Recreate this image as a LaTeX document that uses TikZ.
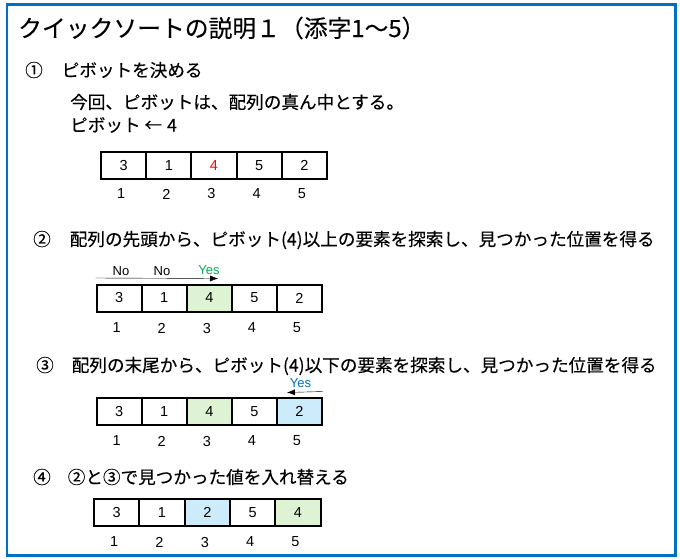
\documentclass[tikz,border=0pt]{standalone}
\usepackage{fontspec}
\setmainfont{Liberation Sans}
\newfontfamily\jpfont[FakeBold=0.3]{Noto Sans CJK JP}
\usetikzlibrary{calc,positioning,arrows.meta}
\definecolor{frameblue}{HTML}{0070C0}
\definecolor{yesgreen}{HTML}{00B050}
\definecolor{cellgreen}{HTML}{DEF2D4}
\definecolor{cellblue}{HTML}{CCECFC}
\tikzset{
	cell/.style={draw, line width=2pt, minimum width=45.2pt, minimum height=27pt, inner sep=0pt, font=\fontsize{14.5}{14.5}\selectfont},
	cellw/.style={fill=white},
	cellg/.style={fill=cellgreen},
	cellb/.style={fill=cellblue},
	cellr/.style={text=red},
	idx/.style={inner sep=0pt, font=\fontsize{14.5}{14.5}\selectfont},
	lab/.style={inner sep=0pt, font=\fontsize{13}{13}\selectfont},
	jp/.style={anchor=west, inner sep=0pt, font=\jpfont\fontsize{17.6}{17.6}\selectfont},
}
\begin{document}
\begin{tikzpicture}[x=1pt,y=-1pt]
	\useasboundingbox (0,0) rectangle (680,558);
	\draw[frameblue, line width=2.5pt] (7,4.3) rectangle (675.5,555.5);
	\node[jp, font=\jpfont\fontsize{23.8}{23.8}\selectfont] (title) at (18,28) {クイックソートの説明１（添字1～5）};
	% 1
	\node[jp] (h1) at (25,70) {①\hspace{19pt}ピボットを決める};
	\node[jp] (t1) at (70,102) {今回、ピボットは、配列の真ん中とする。};
	\node[jp] (t2) at (70,125) {ピボット ←\hspace{5pt}4};
	\coordinate (A1) at (78.4,165.5);
	\foreach \v/\s [count=\i] in {3/cellw,1/cellw,4/cellr,5/cellw,2/cellw}{
		\node[cell,\s] (a1c\i) at ($(A1)+(\i*45.2,0)$) {\v};
		\node[idx] (a1i\i) at ($(a1c\i)+(-2.5,28.5)$) {\i};
	}
	% 2
	\node[jp] (h2) at (33,240) {②\hspace{19pt}配列の先頭から、ピボット(4)以上の要素を探索し、見つかった位置を得る};
	\coordinate (A2) at (74,298);
	\foreach \v/\s [count=\i] in {3/cellw,1/cellw,4/cellg,5/cellw,2/cellw}{
		\node[cell,\s] (a2c\i) at ($(A2)+(\i*45.1,0)$) {\v};
		\node[idx] (a2i\i) at ($(a2c\i)+(-2.5,30)$) {\i};
	}
	\node[lab] (no1) at (121,271) {No};
	\node[lab] (no2) at (162,271) {No};
	\node[lab, yesgreen] (yes2) at (209,270) {Yes};
	\coordinate (s2) at ($(a2c1.north west)+(0,-5.5)$);
	\coordinate (e2) at (218,278.5);
	\draw[-{Latex[length=8pt,width=6pt]}] (s2) -- (e2);
	% 3
	\node[jp] (h3) at (36,366) {③\hspace{18pt}配列の末尾から、ピボット(4)以下の要素を探索し、見つかった位置を得る};
	\coordinate (A3) at (74,411.5);
	\foreach \v/\s [count=\i] in {3/cellw,1/cellw,4/cellg,5/cellw,2/cellb}{
		\node[cell,\s] (a3c\i) at ($(A3)+(\i*45.1,0)$) {\v};
		\node[idx] (a3i\i) at ($(a3c\i)+(-2.5,29.5)$) {\i};
	}
	\node[lab, frameblue] (yes3) at (300.5,383) {Yes};
	\coordinate (s3) at ($(a3c5.north east)+(0,-5.5)$);
	\coordinate (e3) at (287,392.5);
	\draw[-{Latex[length=8pt,width=6pt]}] (s3) -- (e3);
	% 4
	\node[jp] (h4) at (33,477) {④\hspace{17pt}②と③で見つかった値を入れ替える};
	\coordinate (A4) at (71.4,512.5);
	\foreach \v/\s [count=\i] in {3/cellw,1/cellw,2/cellb,5/cellw,4/cellg}{
		\node[cell,\s] (a4c\i) at ($(A4)+(\i*45.3,0)$) {\v};
		\node[idx] (a4i\i) at ($(a4c\i)+(-2.5,29.5)$) {\i};
	}
\end{tikzpicture}
\end{document}
